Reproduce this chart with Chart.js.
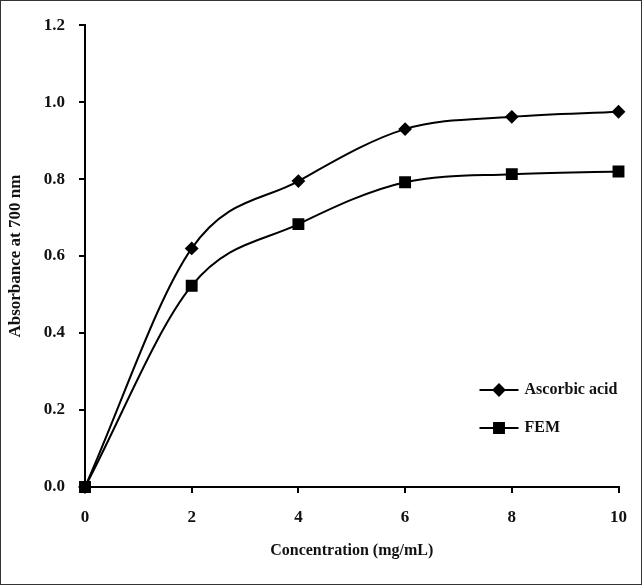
<!DOCTYPE html>
<html>
<head>
<meta charset="utf-8">
<script src="https://cdn.jsdelivr.net/npm/chart.js@4/dist/chart.umd.min.js"></script>
<style>
  body { margin: 0; background: #fff; }
  #frame { width: 640px; height: 583px; border: 1px solid #333; position: relative; }
</style>
</head>
<body>
<div id="frame"><canvas id="myChart" width="640" height="583"></canvas></div>
<script>
const concentration = [0, 2, 4, 6, 8, 10];
const ascorbicAcid = [0, 0.62, 0.795, 0.93, 0.962, 0.975];
const fem = [0, 0.523, 0.683, 0.792, 0.813, 0.82];
const yTicks = [0, 0.2, 0.4, 0.6, 0.8, 1.0, 1.2];

const serif = '"Liberation Serif", "Times New Roman", serif';

// legend drawn inside the plot, lower right
const insideLegend = {
  id: 'insideLegend',
  afterDraw(chart) {
    const ctx = chart.ctx;
    const a = chart.chartArea;
    ctx.save();
    chart.data.datasets.forEach((ds, i) => {
      const y = a.bottom - 97 + i * 38;
      const x1 = a.right - 139;
      const x2 = x1 + 39;
      ctx.strokeStyle = '#000';
      ctx.lineWidth = 2;
      ctx.beginPath();
      ctx.moveTo(x1, y);
      ctx.lineTo(x2, y);
      ctx.stroke();
      ctx.fillStyle = '#000';
      Chart.helpers.drawPoint(ctx, {
        pointStyle: ds.pointStyle, radius: ds.pointRadius, rotation: 0, borderWidth: 1
      }, (x1 + x2) / 2, y);
      ctx.fillStyle = '#111';
      ctx.font = 'bold 16px ' + serif;
      ctx.textBaseline = 'middle';
      ctx.textAlign = 'left';
      ctx.fillText(ds.label, x2 + 6, y);
    });
    ctx.restore();
  }
};

new Chart(document.getElementById('myChart'), {
  type: 'line',
  data: {
    datasets: [{
      label: 'Ascorbic acid',
      data: concentration.map((c, i) => ({ x: c, y: ascorbicAcid[i] })),
      borderColor: '#000',
      backgroundColor: '#000',
      borderWidth: 2,
      pointStyle: 'rectRot',
      pointRadius: 5.5,
      cubicInterpolationMode: 'monotone',
      clip: false
    }, {
      label: 'FEM',
      data: concentration.map((c, i) => ({ x: c, y: fem[i] })),
      borderColor: '#000',
      backgroundColor: '#000',
      borderWidth: 2,
      pointStyle: 'rect',
      pointRadius: 7,
      cubicInterpolationMode: 'monotone',
      clip: false
    }]
  },
  options: {
    responsive: false,
    animation: false,
    layout: { padding: { top: 24, right: 21, bottom: 20, left: 0 } },
    plugins: { legend: { display: false }, tooltip: { enabled: false } },
    scales: {
      x: {
        type: 'linear',
        min: 0, max: 10,
        ticks: { stepSize: 2, color: '#111', font: { family: serif, size: 17, weight: 'bold' }, padding: 14 },
        grid: { drawOnChartArea: false, drawTicks: true, tickLength: 6, color: '#000', lineWidth: 2 },
        border: { color: '#000', width: 2 },
        title: { display: true, text: 'Concentration (mg/mL)', color: '#111', font: { family: serif, size: 16, weight: 'bold' } },
        afterFit(s) { s.height = 77; }
      },
      y: {
        min: 0, max: 1.2,
        afterBuildTicks(s) { s.ticks = yTicks.map(v => ({ value: v })); },
        ticks: { color: '#111', font: { family: serif, size: 17, weight: 'bold' }, padding: 14, callback: v => v.toFixed(1) },
        grid: { drawOnChartArea: false, drawTicks: true, tickLength: 6, color: '#000', lineWidth: 2 },
        border: { color: '#000', width: 2 },
        title: { display: true, text: 'Absorbance at 700 nm', color: '#111', font: { family: serif, size: 17, weight: 'bold' } },
        afterFit(s) { s.width = 84; }
      }
    }
  },
  plugins: [insideLegend]
});
</script>
</body>
</html>
